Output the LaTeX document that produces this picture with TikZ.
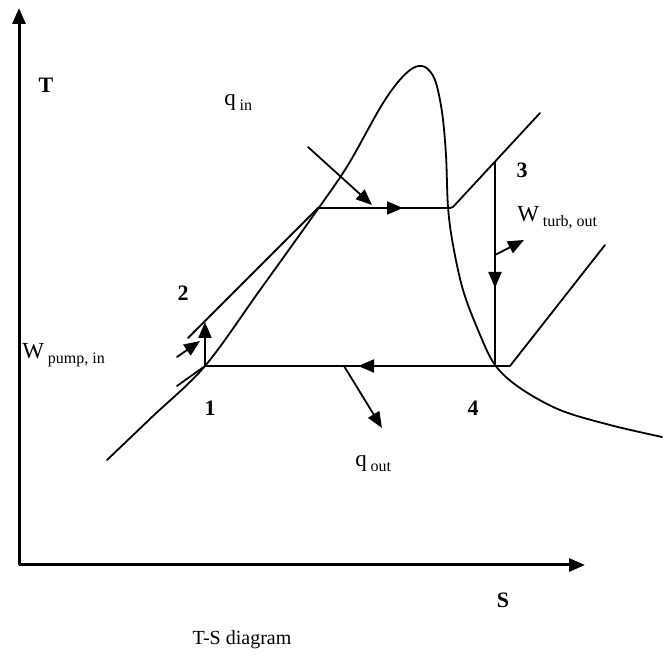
\documentclass[tikz,border=0pt]{standalone}
\usepackage{fontspec}
\setmainfont{Liberation Serif}
\usetikzlibrary{arrows.meta}
\begin{document}
\begin{tikzpicture}[x=0.5pt,y=-0.5pt,
  thinline/.style={line width=0.9pt,line cap=round,line join=round},
  axisline/.style={line width=1.5pt},
  tip/.style={-{Triangle[length=8pt,width=6.5pt]}},
  big/.style={font=\fontsize{11}{13}\selectfont\bfseries},
  lbl/.style={font=\fontsize{11.5}{13}\selectfont, inner sep=0pt},
  sub/.style={}]
\useasboundingbox (0,0) rectangle (665,663);
% axes
\coordinate (O) at (19,565);
\coordinate (Ttop) at (19,8);
\coordinate (Send) at (585,565);
\draw[axisline,tip] (O) -- (Ttop);
\draw[axisline,tip] (O) -- (Send);
\node[big] (Tl) at (46,85) {T};
\node[big] (Sl) at (503,600) {S};
\node[font=\fontsize{10}{12}\selectfont] (cap) at (242,640) {T-S diagram};
% dome
\draw[thinline] plot[smooth,tension=0.55] coordinates {(107,460) (152,417) (205,366) (260,290) (318,209) (348,165) (380,108) (398,82) (413,68) (425,67) (435,80) (442,112) (446,155) (448,207) (453,245) (463,290) (478,330) (495,365) (520,388) (560,410) (610,425) (662,437)};
% cycle points
\coordinate (p1) at (205,366);
\coordinate (p1t) at (177,386);
\coordinate (p2) at (205,322);
\coordinate (p2s) at (188,338);
\coordinate (pf) at (318,208);
\coordinate (pg) at (450,208);
\coordinate (pgs) at (453,207);
\coordinate (psh) at (540,113);
\coordinate (p3) at (495,162);
\coordinate (p4) at (495,366);
\coordinate (p4e) at (510,366);
\coordinate (psh2) at (605,245);
% lines
\draw[thinline] (p1t) -- (p1);
\draw[thinline] (p2s) -- (pf);
\draw[thinline] (pf) -- (pg);
\draw[thinline] (pg) -- (pgs) -- (psh);
\draw[thinline] (p3) -- (p4);
\draw[thinline] (p1) -- (p4e) -- (psh2);
% direction arrows on cycle
\coordinate (aup) at (205,322);
\coordinate (arr1) at (403,208);
\coordinate (arr2) at (495,288);
\coordinate (arr3) at (358,366);
\draw[thinline,tip] (p1) -- (aup);
\draw[thinline,tip] (pf) -- (arr1);
\draw[thinline,tip] (p3) -- (arr2);
\draw[thinline,tip] (p4) -- (arr3);
% heat / work arrows
\coordinate (qin0) at (308,147);
\coordinate (qin1) at (372,205);
\draw[thinline,tip] (qin0) -- (qin1);
\coordinate (qo0) at (344,366);
\coordinate (qo1) at (382,428);
\draw[thinline,tip] (qo0) -- (qo1);
\coordinate (wp0) at (177,357);
\coordinate (wp1) at (200,341);
\draw[thinline,tip] (wp0) -- (wp1);
\coordinate (wt0) at (495,255);
\coordinate (wt1) at (524,240);
\draw[thinline,tip] (wt0) -- (wt1);
% labels
\node[big] (n1) at (210,408) {1};
\node[big] (n2) at (183,293) {2};
\node[big] (n3) at (522,170) {3};
\node[big] (n4) at (473,408) {4};
\node[lbl,anchor=base west] (qin) at (224,106) {q\,\raisebox{-0.4ex}{\fontsize{8}{9}\selectfont in}};
\node[lbl,anchor=base west] (qout) at (355,467) {q\,\raisebox{-0.4ex}{\fontsize{8}{9}\selectfont out}};
\node[lbl,anchor=base west] (wp) at (22,359) {W\,\raisebox{-0.4ex}{\fontsize{8}{9}\selectfont pump, in}};
\node[lbl,anchor=base west] (wt) at (517,222) {W\,\raisebox{-0.4ex}{\fontsize{8}{9}\selectfont turb, out}};
\end{tikzpicture}
\end{document}
